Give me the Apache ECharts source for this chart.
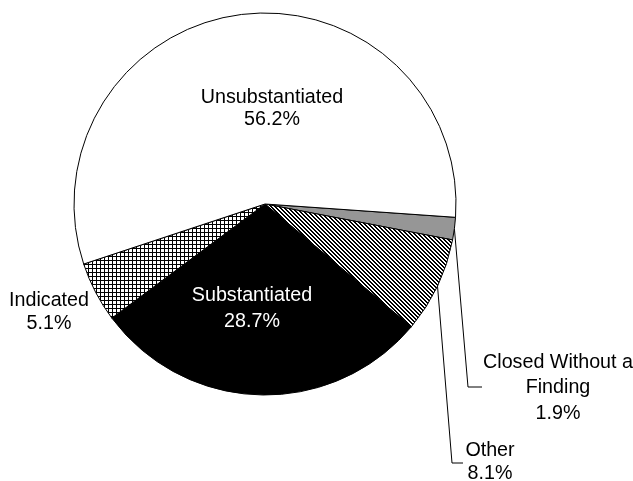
<!DOCTYPE html>
<html>
<head>
<meta charset="utf-8">
<script src="https://cdn.jsdelivr.net/npm/echarts@6/dist/echarts.min.js"></script>
<style>
html,body{margin:0;padding:0;background:#fff;}
#chart{width:633px;height:481px;}
</style>
</head>
<body>
<div id="chart"></div>
<script>
// Data (clockwise order, starting just below east)
var categories = ['Closed Without a\nFinding', 'Other', 'Substantiated', 'Indicated', 'Unsubstantiated'];
var percents = [1.9, 8.1, 28.7, 5.1, 56.2];

function makePattern(kind) {
  var c = document.createElement('canvas');
  c.width = 8; c.height = 8;
  var ctx = c.getContext('2d');
  ctx.fillStyle = '#fff';
  ctx.fillRect(0, 0, 8, 8);
  ctx.fillStyle = '#000';
  for (var x = 0; x < 8; x++) {
    for (var y = 0; y < 8; y++) {
      var on;
      if (kind === 'diag') {
        var m = ((x - y) % 4 + 4) % 4;
        on = (m === 0 || m === 1);
      } else {
        on = (x % 4 === 0 || y % 4 === 0);
      }
      if (on) ctx.fillRect(x, y, 1, 1);
    }
  }
  return { image: c, repeat: 'repeat' };
}

var fills = ['#969696', makePattern('diag'), '#000000', makePattern('cross'), '#ffffff'];
var labelColors = ['#000', '#000', '#fff', '#000', '#000'];
var lineHeights = [25.5, 23, 26, 23, 22];
var showLines = [true, true, false, false, false];
// label anchor positions (pixel) and leader-line elbow points
var labelPos = [[558, 388], [490, 462], [252, 309], [49, 312], [272, 109]];
var elbows = [[[468, 387], [482, 387]], [[452, 463], [463, 463]], null, null, null];

var chart = echarts.init(document.getElementById('chart'), null, {renderer: 'canvas'});
var data = categories.map(function (name, i) {
  return {
    name: name,
    value: percents[i],
    itemStyle: { color: fills[i] },
    label: { color: labelColors[i], lineHeight: lineHeights[i] },
    labelLine: { show: showLines[i] }
  };
});

chart.setOption({
  backgroundColor: '#fff',
  animation: false,
  series: [{
    type: 'pie',
    center: [265, 204],
    radius: [0, 191],
    startAngle: -4,
    clockwise: true,
    avoidLabelOverlap: false,
    silent: true,
    itemStyle: { borderColor: '#000', borderWidth: 1 },
    label: {
      show: true,
      position: 'outside',
      fontFamily: 'Liberation Sans, Arial, sans-serif',
      fontSize: 19.7,
      align: 'center',
      formatter: function (p) { return p.name + '\n' + p.value.toFixed(1) + '%'; }
    },
    labelLine: { show: true, lineStyle: { color: '#000', width: 1 } },
    labelLayout: function (params) {
      var i = params.dataIndex;
      var res = { x: labelPos[i][0], y: labelPos[i][1], align: 'center', verticalAlign: 'middle' };
      if (elbows[i] && params.labelLinePoints) {
        res.labelLinePoints = [params.labelLinePoints[0], elbows[i][0], elbows[i][1]];
      }
      return res;
    },
    emphasis: { disabled: true },
    data: data
  }]
});
</script>
</body>
</html>
